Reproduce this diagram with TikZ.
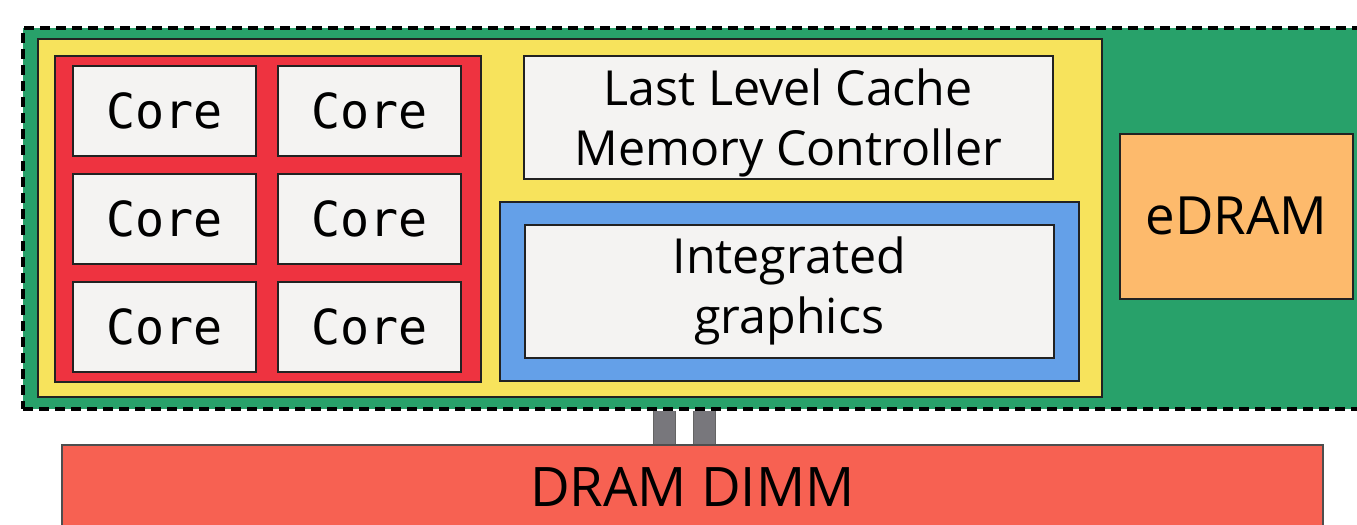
\documentclass[tikz,border=0pt]{standalone}
\usepackage{fontspec}
\setmainfont{Open Sans}
\setmonofont{DejaVu Sans Mono}
\usepackage{tikz}
\usetikzlibrary{positioning, calc}
\definecolor{pkggreen}{HTML}{28A16A}
\definecolor{dieyellow}{HTML}{F7E35C}
\definecolor{corered}{HTML}{EE3340}
\definecolor{boxgray}{HTML}{F4F3F2}
\definecolor{gpublue}{HTML}{64A0E8}
\definecolor{edramorange}{HTML}{FDBA6C}
\definecolor{dimmred}{HTML}{F76152}
\definecolor{busgray}{HTML}{78777C}
\definecolor{edgedark}{HTML}{222222}

\begin{document}
\begin{tikzpicture}[x=0.2mm, y=-0.2mm,
    blk/.style={rectangle, draw=edgedark, line width=0.3mm, fill=#1,
                anchor=north west, inner sep=0pt, align=center},
    core/.style={blk=boxgray, minimum width=36.6mm, minimum height=18mm,
                 font=\ttfamily\fontsize{27.5}{32}\selectfont},
    txt/.style={font=\fontsize{27.5}{34}\selectfont},
    bus/.style={draw=edgedark!70, line width=0.2mm, double=busgray, double distance=4.2mm}
]
\clip (0,0) rectangle (1357,524);

% package and die
\node[blk=pkggreen, draw=black, line width=0.8mm, dash pattern=on 2mm off 1.2mm,
      minimum width=271.8mm, minimum height=76.2mm] (pkg) at (21,26) {};
\node[blk=dieyellow, minimum width=212.8mm, minimum height=71.6mm] (die) at (37,38) {};
\node[blk=corered, minimum width=85.2mm, minimum height=65.2mm] (cores) at (54,55) {};

\node[core] (c11) at (72,65)  {Core};
\node[core] (c12) at (277,65) {Core};
\node[core] (c21) at (72,173)  {Core};
\node[core] (c22) at (277,173) {Core};
\node[core] (c31) at (72,281)  {Core};
\node[core] (c32) at (277,281) {Core};

\node[blk=boxgray, txt, minimum width=105.8mm, minimum height=24.6mm] (llc) at (523,55)
     {\rule{0pt}{9.6mm}Last Level Cache\\Memory Controller};
\node[blk=gpublue, minimum width=115.8mm, minimum height=35.8mm] (gpu) at (499,201) {};
\node[blk=boxgray, txt, minimum width=105.8mm, minimum height=26.6mm] (igfx) at (524,224)
     {Integrated\\graphics};

\node[blk=edramorange, font=\fontsize{30}{36}\selectfont,
      minimum width=46.6mm, minimum height=33mm] (edram) at (1119,133) {eDRAM};

% memory
\node[blk=dimmred, draw=edgedark!80, font=\fontsize{31}{38}\selectfont, text depth=0pt,
      minimum width=252.2mm, minimum height=20mm] (dimm) at (61,444) {\raisebox{3.2mm}{DRAM DIMM}};

\coordinate (busA) at (664,0);
\coordinate (busB) at (704,0);
\draw[bus] (pkg.south -| busA) -- (dimm.north -| busA);
\draw[bus] (pkg.south -| busB) -- (dimm.north -| busB);
\end{tikzpicture}
\end{document}
